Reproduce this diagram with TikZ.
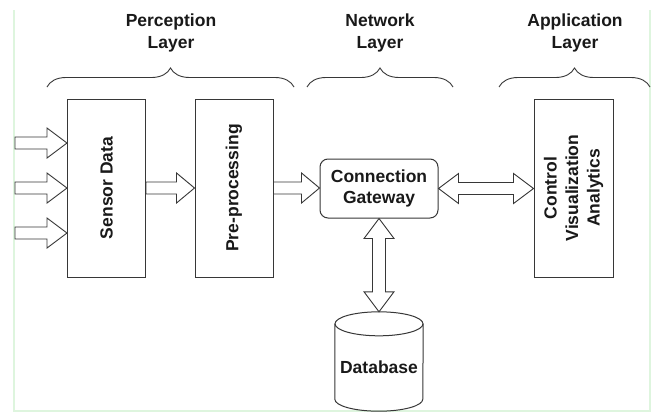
\documentclass[tikz,border=0pt]{standalone}
\usepackage{fontspec}
\setmainfont{Liberation Sans}
\usetikzlibrary{calc,decorations.pathreplacing}
\definecolor{ln}{RGB}{55,55,55}
\definecolor{tx}{RGB}{25,25,25}
\definecolor{frm}{RGB}{222,245,222}
\tikzset{
  box/.style={draw=ln, line width=1pt, minimum width=78pt, minimum height=178pt, inner sep=0pt},
  gatebox/.style={draw=ln, line width=1pt, rounded corners=8pt, minimum width=118pt, minimum height=59pt, inner sep=0pt, align=center, text=tx, font=\fontsize{17.5}{21.5}\selectfont\bfseries},
  txt/.style={text=tx, align=center, inner sep=0pt, font=\fontsize{17.5}{21.5}\selectfont\bfseries},
  fat/.style={draw=ln, line width=0.9pt, fill=white, line join=miter},
  line/.style={draw=ln, line width=1pt},
  brace/.style={decorate, decoration={brace, amplitude=19pt}, draw=ln, line width=0.9pt},
}
\newcommand\fatR[3]{%
  \draw[fat] let \p1=#1, \p2=#2 in
   (\x1,{\y1+6pt}) -- ({\x2-#3},{\y1+6pt}) -- ({\x2-#3},{\y1+15pt}) -- (\x2,\y1)
   -- ({\x2-#3},{\y1-15pt}) -- ({\x2-#3},{\y1-6pt}) -- (\x1,{\y1-6pt}) -- cycle;}
\newcommand\fatLR[2]{%
  \draw[fat] let \p1=#1, \p2=#2 in
   (\x1,\y1) -- ({\x1+20pt},{\y1+15pt}) -- ({\x1+20pt},{\y1+6pt}) -- ({\x2-20pt},{\y1+6pt})
   -- ({\x2-20pt},{\y1+15pt}) -- (\x2,\y1) -- ({\x2-20pt},{\y1-15pt}) -- ({\x2-20pt},{\y1-6pt})
   -- ({\x1+20pt},{\y1-6pt}) -- ({\x1+20pt},{\y1-15pt}) -- cycle;}
\newcommand\fatUD[2]{%
  \draw[fat] let \p1=#1, \p2=#2 in
   (\x1,\y1) -- ({\x1+15pt},{\y1-20pt}) -- ({\x1+6.5pt},{\y1-20pt}) -- ({\x1+6.5pt},{\y2+20pt})
   -- ({\x1+15pt},{\y2+20pt}) -- (\x1,\y2) -- ({\x1-15pt},{\y2+20pt}) -- ({\x1-6.5pt},{\y2+20pt})
   -- ({\x1-6.5pt},{\y1-20pt}) -- ({\x1-15pt},{\y1-20pt}) -- cycle;}
\begin{document}
\begin{tikzpicture}[x=1pt,y=-1pt]
\useasboundingbox (0,0) rectangle (652,415);
\fill[white] (0,0) rectangle (652,415);
% faint frame
\draw[frm, line width=1.5pt] (14,10) -- (14,411) -- (650,411) -- (650,10);

% layer titles
\node[txt] (perc) at (171,33) {Perception\\Layer};
\node[txt] (netw) at (380,33) {Network\\Layer};
\node[txt] (appl) at (575,33) {Application\\Layer};

% braces
\coordinate (b1a) at (47,87);  \coordinate (b1b) at (294,87);
\coordinate (b2a) at (307,87); \coordinate (b2b) at (453,87);
\coordinate (b3a) at (499,87); \coordinate (b3b) at (650,87);
\draw[brace] (b1a) -- (b1b);
\draw[brace] (b2a) -- (b2b);
\draw[brace] (b3a) -- (b3b);

% boxes
\node[box] (sensor) at (106.5,188) {};
\node[txt, rotate=90] (sensortxt) at (sensor.center) {Sensor Data};
\node[box] (pre) at (234,188) {};
\node[txt, rotate=90] (pretxt) at (pre.center) {Pre-processing};
\node[box, minimum width=79pt] (app) at (573.5,188) {};
\node[txt, rotate=90] (apptxt) at (app.center) {Control\\Visualization\\Analytics};
\node[gatebox] (gate) at (379,188.5) {Connection\\Gateway};

% database
\node[minimum width=88pt, minimum height=99pt, inner sep=0pt] (db) at (379,361.5) {};
\draw[line] ($(db.north west)+(0,12)$) -- ($(db.south west)+(0,-12)$)
   arc[start angle=180, end angle=360, x radius=44pt, y radius=12pt]
   -- ($(db.north east)+(0,12)$);
\draw[line] ($(db.north)+(0,12)$) ellipse [x radius=44pt, y radius=12pt];
\node[txt] (dbtxt) at ($(db.center)+(0,5.5)$) {Database};

% input arrows
\coordinate (in1) at (15,143);
\coordinate (in2) at (15,188);
\coordinate (in3) at (15,233);
\fatR{(in1)}{(sensor.west |- in1)}{20pt}
\fatR{(in2)}{(sensor.west |- in2)}{20pt}
\fatR{(in3)}{(sensor.west |- in3)}{20pt}

% connectors
\fatR{(sensor.east)}{(pre.west)}{18pt}
\fatR{(pre.east)}{(gate.west |- pre.east)}{18pt}
\fatLR{(gate.east)}{(app.west |- gate.east)}
\fatUD{(gate.south)}{(db.north)}
\end{tikzpicture}
\end{document}
